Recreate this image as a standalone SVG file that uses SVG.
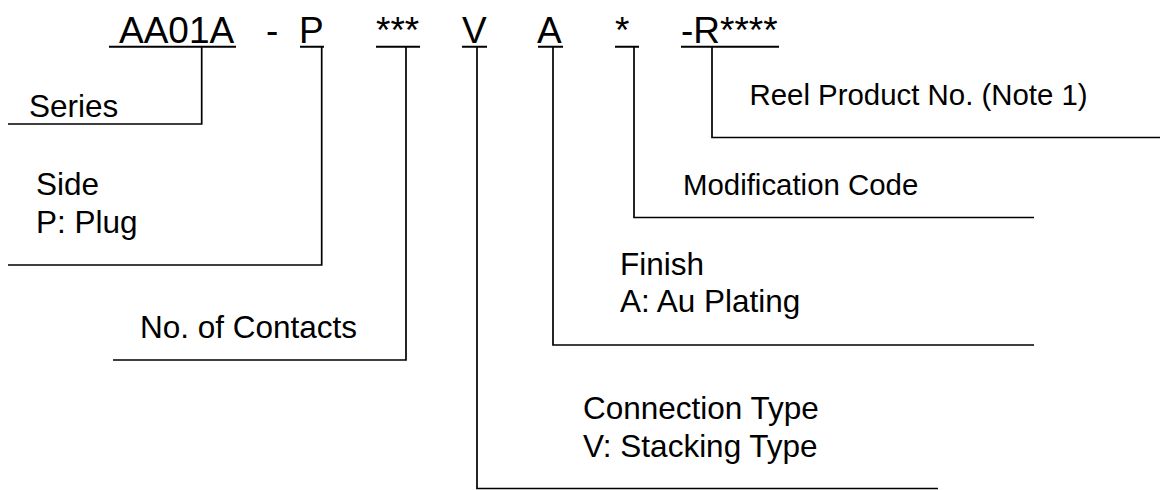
<svg xmlns="http://www.w3.org/2000/svg" width="1160" height="490" viewBox="0 0 1160 490">
<style>
  text { font-family: "Liberation Sans", Arial, sans-serif; fill: #000; }
  .code { font-size: 37px; }
  .lbl { font-size: 31.5px; }
  .lbl2 { font-size: 29.4px; }
  .ul { stroke: #000; stroke-width: 2; fill: none; }
  .conn { stroke: #000; stroke-width: 1.7; fill: none; }
</style>
<rect width="1160" height="490" fill="#fff"/>
<g id="code">
  <text class="code" x="119" y="42.5">AA01A</text>
  <text class="code" x="266" y="42.5">-</text>
  <text class="code" x="299" y="42.5">P</text>
  <text class="code" x="376" y="42.5">***</text>
  <text class="code" x="462" y="42.5">V</text>
  <text class="code" x="537" y="42.5">A</text>
  <text class="code" x="615" y="42.5">*</text>
  <text class="code" x="681" y="42.5">-R****</text>
  <path class="ul" d="M109,46.7H236 M300,46.7H324 M376,46.7H420 M462,46.7H487 M538,46.7H563 M615,46.7H639 M681,46.7H779"/>
</g>
<g id="connectors">
  <path class="conn" d="M201.7,47V124H8"/>
  <path class="conn" d="M321.7,47V265H8"/>
  <path class="conn" d="M406,47V360H113"/>
  <path class="conn" d="M477,47V488.5H938"/>
  <path class="conn" d="M553,47V345H1034"/>
  <path class="conn" d="M634,47V217.5H1034"/>
  <path class="conn" d="M712,47V137.5H1160"/>
</g>
<g id="series"><text class="lbl" x="29" y="117">Series</text></g>
<g id="side"><text class="lbl" x="36" y="195">Side</text><text class="lbl" x="36" y="233">P: Plug</text></g>
<g id="contacts"><text class="lbl" x="140" y="338">No. of Contacts</text></g>
<g id="connection"><text class="lbl" x="583" y="419">Connection Type</text><text class="lbl" x="583" y="456.5">V: Stacking Type</text></g>
<g id="finish"><text class="lbl" x="620" y="275">Finish</text><text class="lbl" x="620" y="311.5">A: Au Plating</text></g>
<g id="modification"><text class="lbl2" x="683" y="195">Modification Code</text></g>
<g id="reel"><text class="lbl2" x="749.5" y="105">Reel Product No. (Note 1)</text></g>
</svg>
